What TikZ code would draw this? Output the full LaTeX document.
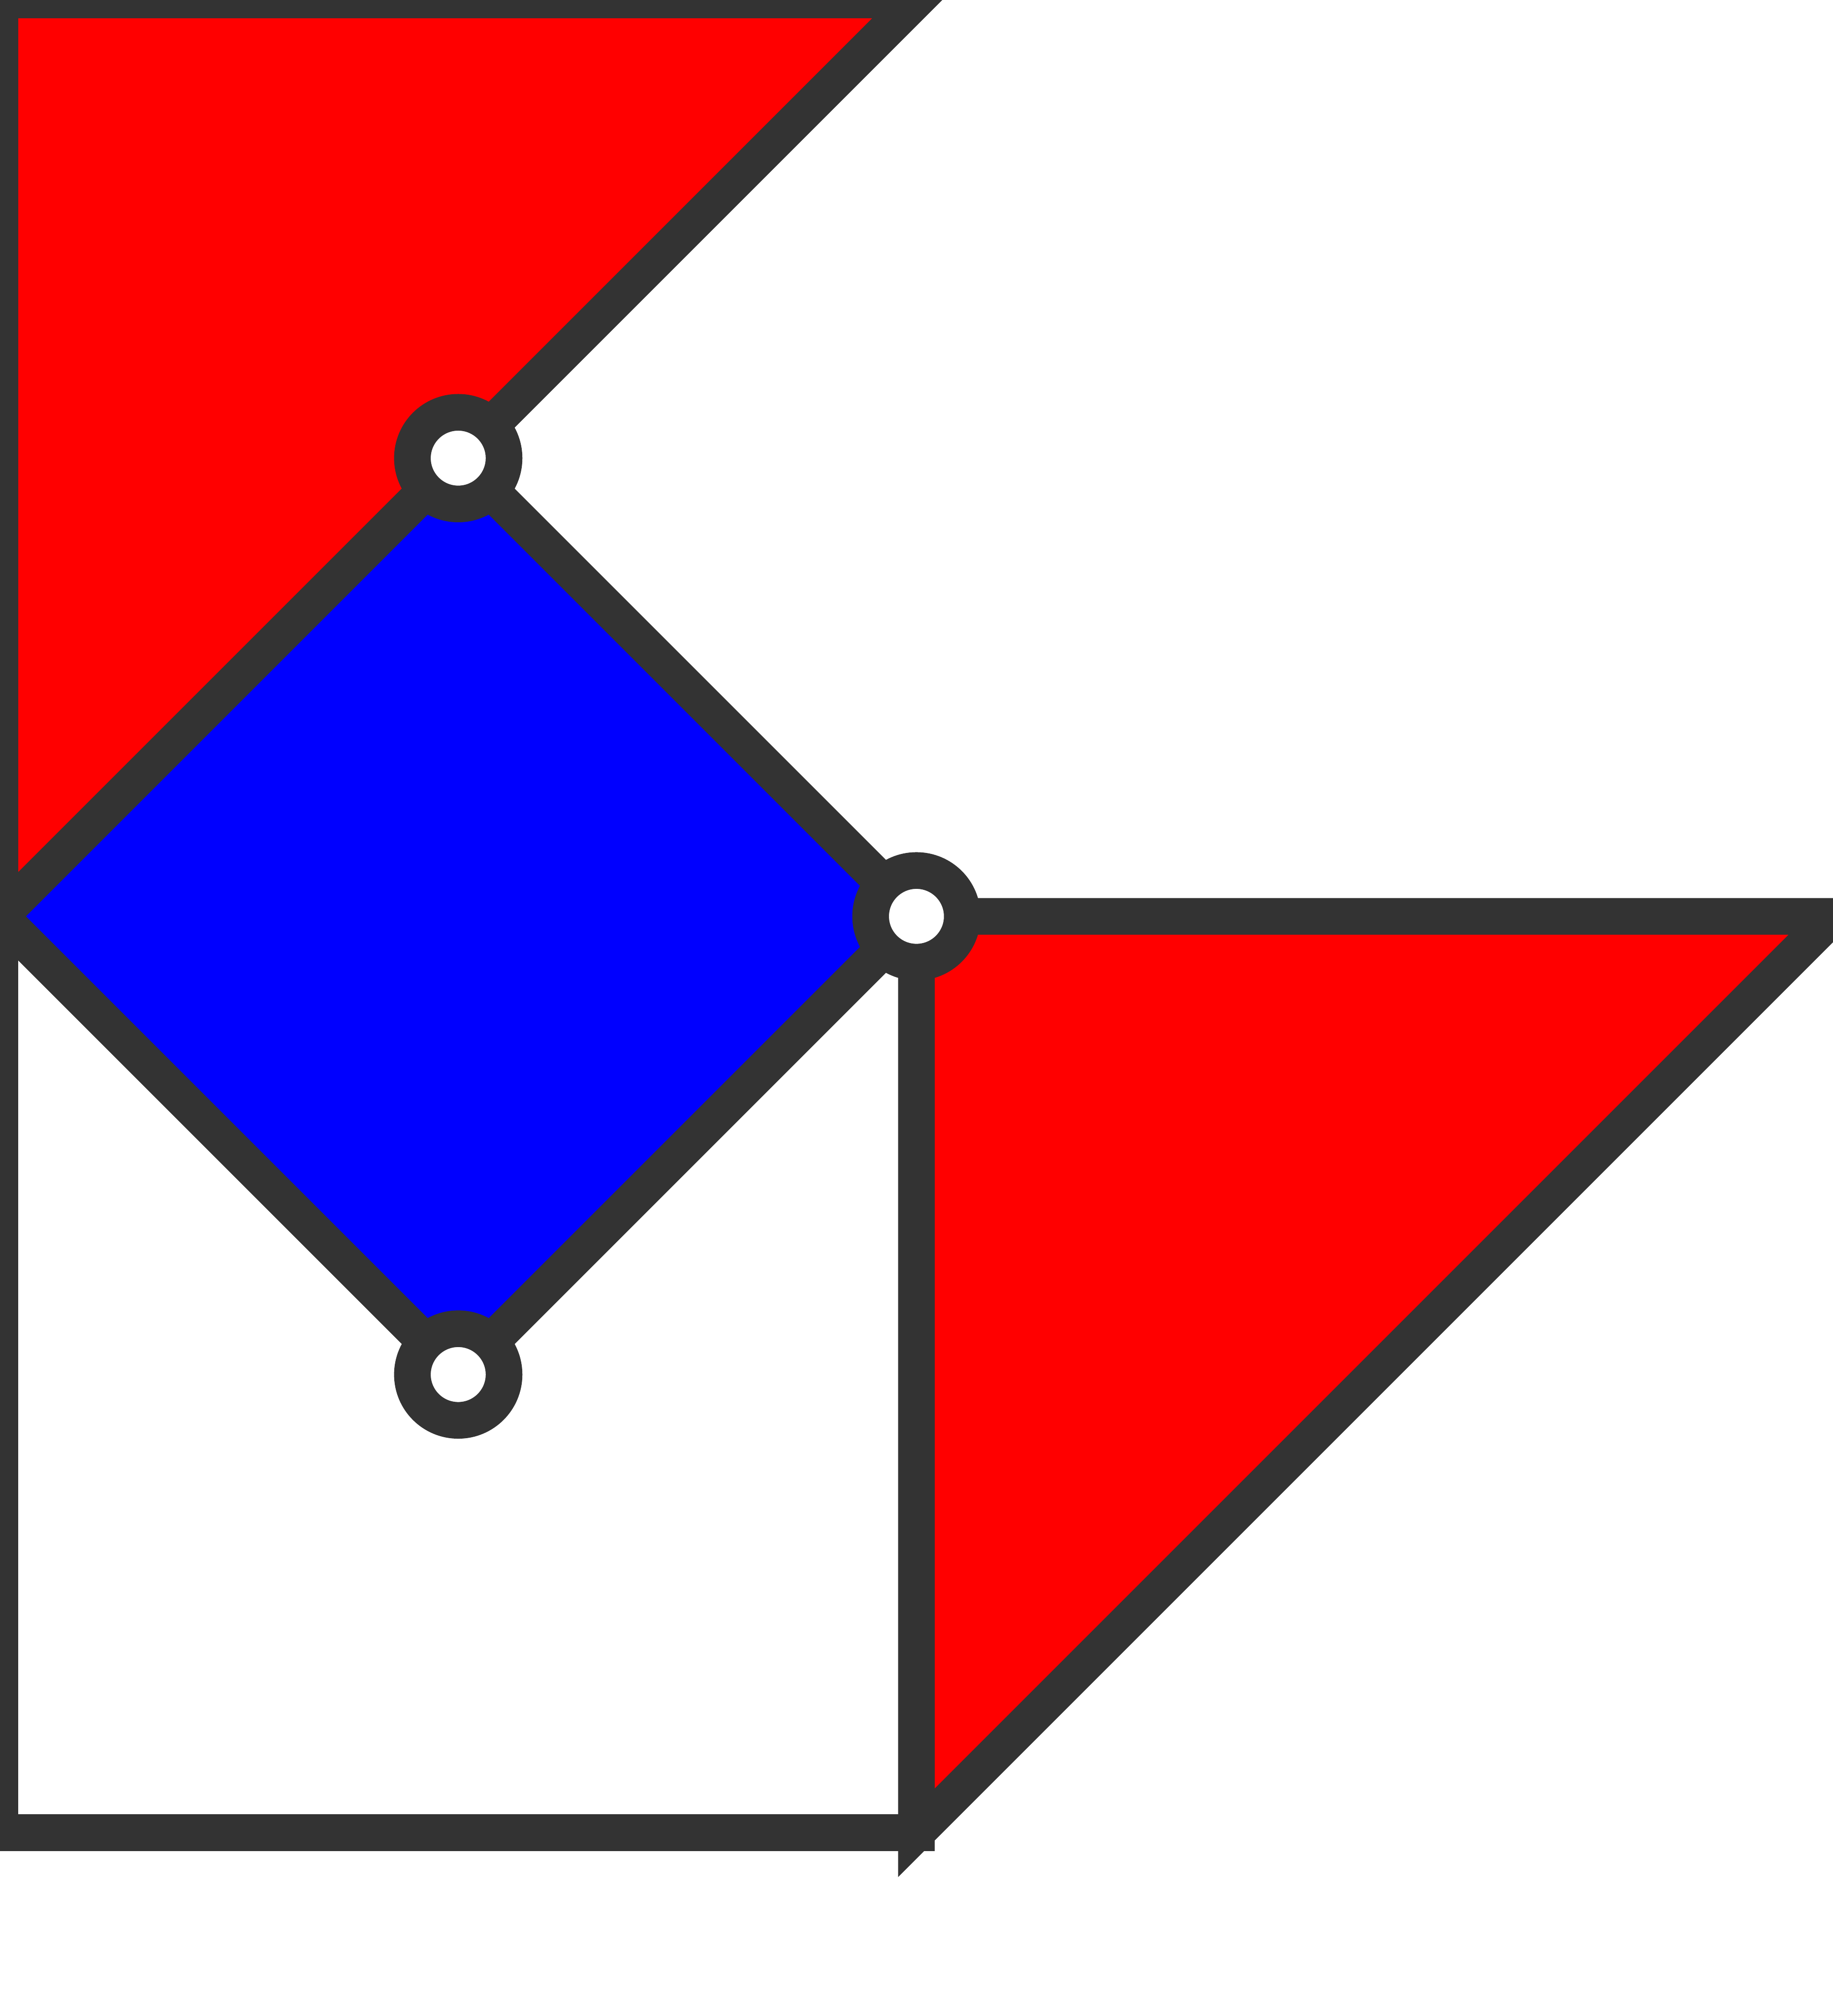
\documentclass[tikz,border=0pt]{standalone}
\usepackage{xcolor}
\usepackage{tikz}
\definecolor{edgegray}{HTML}{333333}

\begin{document}
\begin{tikzpicture}[
      face/.style={draw=edgegray, line width=0.8mm},
      hub/.style={circle, draw=edgegray, fill=white, line width=0.8mm, minimum size=2mm, inner sep=0pt}]
    \useasboundingbox (0,-4.4) rectangle (4,0);
    \clip (0,-4.4) rectangle (4,0);
    \coordinate (c00) at (0,0);
    \coordinate (c20) at (2,0);
    \coordinate (c11) at (1,-1);
    \coordinate (c02) at (0,-2);
    \coordinate (c22) at (2,-2);
    \coordinate (c42) at (4,-2);
    \coordinate (c13) at (1,-3);
    \coordinate (c04) at (0,-4);
    \coordinate (c24) at (2,-4);
    % faces
    \draw[face, fill=red] (c00) -- (c20) -- (c02) -- cycle;
    \draw[face, fill=white] (c02) -- (c04) -- (c24) -- (c22) -- cycle;
    \draw[face, fill=red] (c22) -- (c42) -- (c24) -- cycle;
    \draw[face, fill=blue] (c02) -- (c11) -- (c22) -- (c13) -- cycle;
    % joints
    \node[hub] (j1) at (c11) {};
    \node[hub] (j2) at (c22) {};
    \node[hub] (j3) at (c13) {};
  \end{tikzpicture}
\end{document}
